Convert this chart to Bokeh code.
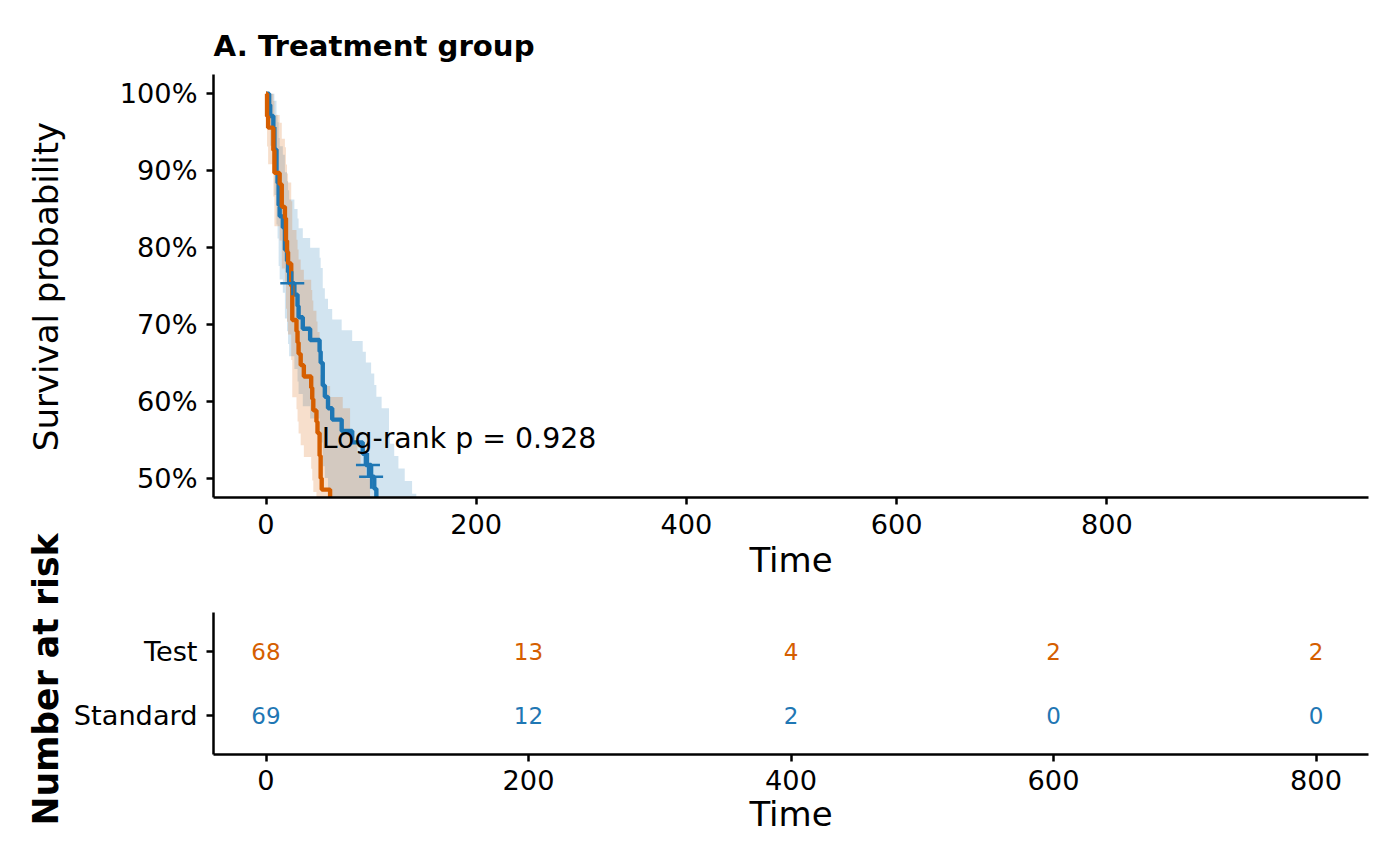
import math
from bokeh.plotting import figure
from bokeh.layouts import column, row
from bokeh.models import Range1d, FixedTicker
from bokeh.core.properties import value
from bokeh.embed import file_html
from bokeh.resources import INLINE

# ---------------- data ----------------
# Kaplan-Meier steps, Standard treatment
std_time = [0, 3, 4, 7, 8, 10, 11, 12, 13, 16, 18, 20, 21, 22, 27, 30, 31, 35, 42, 51,
            52, 54, 56, 59, 63, 72, 82, 92, 95, 100, 103, 105, 110, 117, 118, 122, 126, 132, 139, 143]
std_surv = [1, 0.98551, 0.97101, 0.95652, 0.92754, 0.89855, 0.88406, 0.85507, 0.84058, 0.82609,
            0.79710, 0.78261, 0.76812, 0.75362, 0.73884, 0.72406, 0.70929, 0.69451, 0.67973, 0.66496,
            0.65018, 0.62063, 0.60585, 0.59107, 0.57629, 0.56152, 0.54674, 0.53196, 0.51719, 0.50198,
            0.48629, 0.47060, 0.45491, 0.42354, 0.40785, 0.39216, 0.37582, 0.35948, 0.34314, 0.32680]
std_upper = [1, 1, 1, 1, 0.99078, 0.97269, 0.96293, 0.94230, 0.93155, 0.92055,
             0.89787, 0.88624, 0.87444, 0.86247, 0.85019, 0.83776, 0.82520, 0.81247, 0.79962, 0.78665,
             0.77354, 0.74698, 0.73353, 0.71996, 0.70629, 0.69252, 0.67863, 0.66464, 0.65056, 0.63608,
             0.62118, 0.60614, 0.59098, 0.56030, 0.54475, 0.52908, 0.51285, 0.49645, 0.47993, 0.46322]
std_lower = [1, 0.95771, 0.93222, 0.90959, 0.86834, 0.83006, 0.81166, 0.77592, 0.75850, 0.74133,
             0.70764, 0.69109, 0.67472, 0.65851, 0.64207, 0.62578, 0.60966, 0.59367, 0.57781, 0.56209,
             0.54649, 0.51565, 0.50039, 0.48525, 0.47022, 0.45530, 0.44048, 0.42577, 0.41116, 0.39612,
             0.38069, 0.36536, 0.35017, 0.32017, 0.30536, 0.29068, 0.27541, 0.26030, 0.24534, 0.23056]
std_cens_time = [25, 97, 100, 123]
std_cens_surv = [0.75362, 0.51719, 0.50198, 0.39216]

# Kaplan-Meier steps, Test treatment
test_time = [0, 1, 2, 7, 8, 13, 15, 18, 19, 20, 21, 24, 25, 29, 30, 31, 33, 36, 43, 44,
             45, 48, 49, 51, 52, 53, 61, 73, 80, 84, 87, 90, 95, 99]
test_surv = [1, 0.97059, 0.95588, 0.92647, 0.89706, 0.88235, 0.85294, 0.83824, 0.80882, 0.79412,
             0.77941, 0.75, 0.70588, 0.69118, 0.67647, 0.66176, 0.64706, 0.63235, 0.61765, 0.60294,
             0.58824, 0.57353, 0.55882, 0.52941, 0.5, 0.48529, 0.47059, 0.45588, 0.42647, 0.41124,
             0.39601, 0.38017, 0.36433, 0.33265]
test_upper = [1, 1, 1, 0.99063, 0.97228, 0.96235, 0.94142, 0.93050, 0.90790, 0.89628,
              0.88447, 0.86031, 0.82293, 0.81019, 0.79732, 0.78433, 0.77122, 0.75800, 0.74466, 0.73121,
              0.71767, 0.70400, 0.69022, 0.66239, 0.63415, 0.61988, 0.60552, 0.59106, 0.56182, 0.54669,
              0.53145, 0.51567, 0.49976, 0.46750]
test_lower = [1, 0.93125, 0.90830, 0.86646, 0.82766, 0.80900, 0.77278, 0.75513, 0.72055, 0.70360,
              0.68683, 0.65383, 0.60548, 0.58965, 0.57394, 0.55834, 0.54288, 0.52753, 0.51230, 0.49717,
              0.48216, 0.46725, 0.45243, 0.42314, 0.39423, 0.37993, 0.36573, 0.35163, 0.32374, 0.30935,
              0.29510, 0.28028, 0.26560, 0.23670]
test_cens_time = [83, 87, 103]
test_cens_surv = [0.42647, 0.39601, 0.33265]

# number at risk table
risk_times = [0, 200, 400, 600, 800]
test_risk = [68, 13, 4, 2, 2]
std_risk = [69, 12, 2, 0, 0]
risk_groups = ["Standard", "Test"]

surv_ticks = [0.5, 0.6, 0.7, 0.8, 0.9, 1.0]
surv_tick_labels = ["50%", "60%", "70%", "80%", "90%", "100%"]
time_ticks = [0, 200, 400, 600, 800]
pval_text = "Log-rank p = 0.928"

# ---------------- style ----------------
FONT = "DejaVu Sans"
C_STD = "#1F77B4"
C_TEST = "#D55E00"
TICK_FS = "27.2px"
TITLE_FS = "34px"
LEFT_W = 70
MAIN_W = 1330


def style_axes(p):
    for ax in (p.xaxis[0], p.yaxis[0]):
        ax.axis_line_width = 2.5
        ax.axis_line_color = "black"
        ax.major_tick_line_width = 2.5
        ax.major_tick_line_color = "black"
        ax.major_tick_out = 7
        ax.major_tick_in = 0
        ax.minor_tick_out = 0
        ax.minor_tick_in = 0
        ax.major_label_text_font = FONT
        ax.major_label_text_font_size = TICK_FS
        ax.major_label_text_color = "black"
        ax.axis_label_text_font = FONT
        ax.axis_label_text_font_size = TITLE_FS
        ax.axis_label_text_font_style = "normal"
        ax.axis_label_text_color = "black"
    p.xgrid.grid_line_color = None
    p.ygrid.grid_line_color = None
    p.outline_line_color = None
    p.background_fill_color = "white"
    p.border_fill_color = "white"


# ---------------- left strip with the two y-axis titles ----------------
pl = figure(width=LEFT_W, height=864, output_backend="svg", toolbar_location=None,
            x_range=Range1d(0, LEFT_W), y_range=Range1d(864, 0),
            x_axis_location=None, y_axis_location=None, min_border=0)
pl.xgrid.grid_line_color = None
pl.ygrid.grid_line_color = None
pl.outline_line_color = None
pl.text(x=[45], y=[286], text=["Survival probability"], angle=math.pi / 2,
        text_font=value(FONT), text_font_size=value(TITLE_FS), text_align="center",
        text_baseline="middle", text_color="black")
pl.text(x=[45], y=[679], text=["Number at risk"], angle=math.pi / 2,
        text_font=value(FONT), text_font_size=value("34.7px"), text_font_style="bold",
        text_align="center", text_baseline="middle", text_color="black")

# ---------------- survival plot ----------------
p1 = figure(width=MAIN_W, height=598, output_backend="svg", toolbar_location=None,
            x_range=Range1d(-49.95, 1048.95), y_range=Range1d(0.475, 1.025),
            min_border_left=213 - LEFT_W, min_border_right=32, min_border_top=74, min_border_bottom=101,
            title="A. Treatment group")
p1.title.text_font = FONT
p1.title.text_font_size = "29.2px"
p1.title.text_font_style = "bold"
p1.title.text_color = "black"
p1.title.standoff = 24

p1.varea_step(x=std_time, y1=std_lower, y2=std_upper, step_mode="after",
              fill_color=C_STD, fill_alpha=0.2)
p1.varea_step(x=test_time, y1=test_lower, y2=test_upper, step_mode="after",
              fill_color=C_TEST, fill_alpha=0.2)
p1.step(x=std_time, y=std_surv, mode="after", line_color=C_STD, line_width=4.4)
p1.step(x=test_time, y=test_surv, mode="after", line_color=C_TEST, line_width=4.4)
p1.scatter(x=std_cens_time, y=std_cens_surv, marker="cross", size=24,
           line_color=C_STD, line_width=2.4)
p1.scatter(x=test_cens_time, y=test_cens_surv, marker="cross", size=24,
           line_color=C_TEST, line_width=2.4)
p1.text(x=[53], y=[0.5517], text=[pval_text], text_font=value(FONT),
        text_font_size=value("28.4px"), text_align="left", text_baseline="middle",
        text_color="black")

style_axes(p1)
p1.xaxis.ticker = FixedTicker(ticks=time_ticks)
p1.yaxis.ticker = FixedTicker(ticks=surv_ticks)
p1.yaxis.major_label_overrides = {t: l for t, l in zip(surv_ticks, surv_tick_labels)}
p1.xaxis.axis_label = "Time"
p1.xaxis.major_label_standoff = 9
p1.yaxis.major_label_standoff = 9
p1.xaxis.axis_label_standoff = 3

# ---------------- risk table ----------------
p2 = figure(width=MAIN_W, height=266, output_backend="svg", toolbar_location=None,
            x_range=Range1d(-40, 840), y_range=Range1d(0.4, 2.6),
            min_border_left=213 - LEFT_W, min_border_right=32, min_border_top=14, min_border_bottom=110)
p2.text(x=risk_times, y=[2] * len(risk_times), text=[str(v) for v in test_risk],
        text_font=value(FONT), text_font_size=value("23px"), text_align="center",
        text_baseline="middle", text_color=C_TEST)
p2.text(x=risk_times, y=[1] * len(risk_times), text=[str(v) for v in std_risk],
        text_font=value(FONT), text_font_size=value("23px"), text_align="center",
        text_baseline="middle", text_color=C_STD)

style_axes(p2)
p2.xaxis.ticker = FixedTicker(ticks=time_ticks)
p2.yaxis.ticker = FixedTicker(ticks=[1, 2])
p2.yaxis.major_label_overrides = {1: risk_groups[0], 2: risk_groups[1]}
p2.xaxis.axis_label = "Time"
p2.xaxis.major_label_standoff = 8
p2.yaxis.major_label_standoff = 9
p2.xaxis.axis_label_standoff = 1

layout = row(pl, column(p1, p2, spacing=0), spacing=0)
open("out.html", "w").write(file_html(layout, INLINE))
